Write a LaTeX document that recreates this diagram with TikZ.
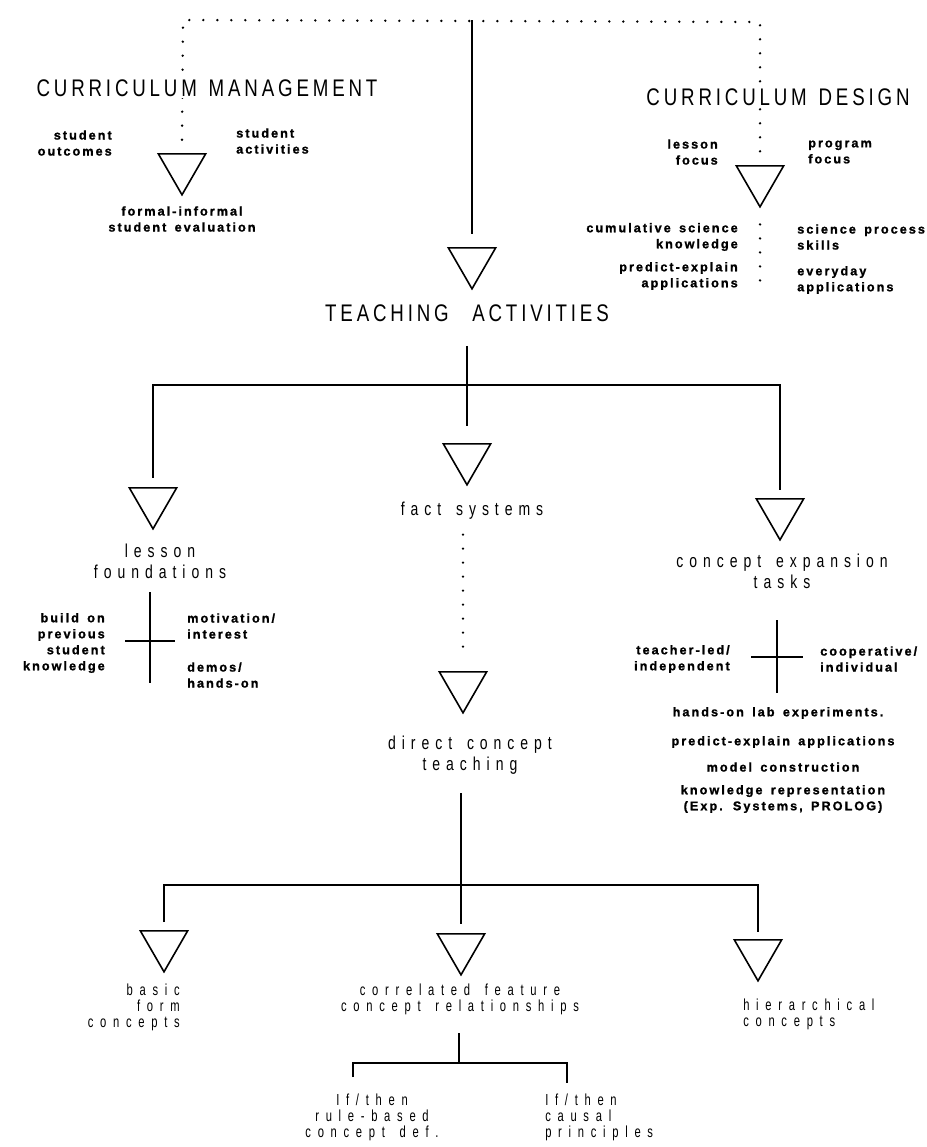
\documentclass[tikz,border=0pt]{standalone}
\usepackage{fontspec}
\setmainfont{Liberation Sans}
\newfontfamily\capsfont[LetterSpace=16,FakeStretch=0.78,WordSpace=1.3]{Liberation Sans}
\newfontfamily\labfont[LetterSpace=32,FakeStretch=0.75,WordSpace=1.5]{Liberation Sans}
\newfontfamily\botfont[LetterSpace=42,FakeStretch=0.7,WordSpace=1.5]{Liberation Sans}
\newfontfamily\smallfont[LetterSpace=16,FakeBold=1.2,WordSpace=1.5]{Liberation Sans}
\usetikzlibrary{positioning,shapes.geometric}

\begin{document}
\begin{tikzpicture}[x=0.75pt,y=-0.75pt,
		tri/.style={ % the open triangles
			draw, regular polygon, regular polygon sides=3,
			shape border rotate=180, minimum size=41pt,
			inner sep=0pt, line width=1.2pt, anchor=north
		},
		line/.style={line width=1.1pt},
		dotline/.style={line width=2pt, line cap=round, dash pattern=on 0pt off 10.5pt},
		head/.style={font=\capsfont\fontsize{18}{22}\selectfont, fill=white, inner sep=1pt},
		lab/.style={font=\labfont\fontsize{14}{16}\selectfont, align=center, inner sep=0pt},
		bot/.style={font=\botfont\fontsize{12}{12}\selectfont, inner sep=0pt},
		note/.style={font=\smallfont\bfseries\fontsize{9.5}{12}\selectfont, inner sep=0pt}
		]
		\useasboundingbox (0,0) rectangle (927,1147);

		%% top: management and design
		\node[tri] (tMan) at (182,153) {};
		\node[tri] (tDes) at (760,165) {};
		\node[tri] (tTeach) at (472,247) {};
		\coordinate (topL) at (183,20);
		\coordinate (topR) at (760,22);
		\coordinate (topM) at (472,20);

		\draw[dotline] ([yshift=10pt]tMan.north) -- (topL) -- (topR) -- ([yshift=10pt]tDes.north);
		\draw[line] (topM) -- ([yshift=10pt]tTeach.north);

		\node[head] (hMan) at (207,88) {CURRICULUM MANAGEMENT};
		\node[head] (hDes) at (778,97) {CURRICULUM DESIGN};

		\node[note, align=right, anchor=east] (nOut) at (112,143) {student\\outcomes};
		\node[note, align=left, anchor=west] (nAct) at (236,141) {student\\activities};
		\node[note, align=center] (nEval) at (182,219) {formal-informal\\student evaluation};

		\node[note, align=right, anchor=east] (nLes) at (718,152) {lesson\\focus};
		\node[note, align=left, anchor=west] (nProg) at (808,152) {program\\focus};
		\node[note, align=right, anchor=east] (nCum) at (738,237) {cumulative science\\knowledge};
		\node[note, align=right, anchor=east] (nPred) at (738,276) {predict-explain\\applications};
		\node[note, align=left, anchor=west] (nSci) at (797,237) {science process\\skills};
		\node[note, align=left, anchor=west] (nEvr) at (797,280) {everyday\\applications};
		\coordinate (desEnd) at (760,292);
		\draw[dotline] ([yshift=-12pt]tDes.south) -- (desEnd);

		\node[head] (hTeach) at (467,313) {TEACHING\ \ ACTIVITIES};

		%% three branches
		\node[tri] (tLes) at (153,487) {};
		\node[tri] (tFact) at (467,443) {};
		\node[tri] (tCon) at (780,498) {};
		\coordinate (jTeach) at (467,385);
		\draw[line, shorten <=17pt, shorten >=13pt] (hTeach.south) -- (tFact.north);
		\draw[line] ([yshift=7pt]tLes.north) |- (jTeach) -| ([yshift=6pt]tCon.north);

		\node[lab] (lLes) at (160,561) {lesson\\foundations};
		\node[lab] (lFact) at (472,511) {fact systems};
		\node[lab] (lCon) at (782,571) {concept expansion\\tasks};

		% cross under lesson foundations
		\coordinate (xLes) at (150,641);
		\draw[line] (xLes) ++(0,-49) -- ++(0,91) (xLes) ++(-25,0) -- ++(50,0);
		\node[note, align=right, anchor=east] (nBuild) at (105,643) {build on\\previous\\student\\knowledge};
		\node[note, align=left, anchor=west] (nMot) at (187,626) {motivation/\\interest};
		\node[note, align=left, anchor=west] (nDemo) at (187,675) {demos/\\hands-on};

		% cross under concept expansion tasks
		\coordinate (xCon) at (777,657);
		\draw[line] (xCon) ++(0,-37) -- ++(0,73) (xCon) ++(-26,0) -- ++(52,0);
		\node[note, align=right, anchor=east] (nTL) at (730,659) {teacher-led/\\independent};
		\node[note, align=left, anchor=west] (nCoop) at (820,659) {cooperative/\\individual};
		\node[note] (nLab) at (778,713) {hands-on lab experiments.};
		\node[note] (nPE) at (783,742) {predict-explain applications};
		\node[note] (nMod) at (783,767) {model construction};
		\node[note, align=center] (nKnow) at (783,799) {knowledge representation\\(Exp. Systems, PROLOG)};

		%% direct concept teaching
		\node[tri] (tDir) at (463,671) {};
		\draw[dotline, shorten <=11pt, shorten >=14pt] (tDir.north |- lFact.south) -- (tDir.north);
		\node[lab] (lDir) at (470,755) {direct concept\\teaching};

		%% bottom row
		\node[tri] (tBas) at (164,930) {};
		\node[tri] (tCor) at (461,933) {};
		\node[tri] (tHie) at (758,939) {};
		\coordinate (jDir) at (461,885);
		\draw[line, shorten <=14pt] (tCor.north |- lDir.south) -- ([yshift=7pt]tCor.north);
		\draw[line] ([yshift=6pt]tBas.north) |- (jDir) -| ([yshift=5pt]tHie.north);

		\node[bot, align=right, anchor=east] (lBas) at (180,1007) {basic\\form\\concepts};
		\node[bot, align=center] (lCor) at (460,999) {correlated feature\\concept relationships};
		\node[bot, align=left, anchor=west] (lHie) at (743,1014) {hierarchical\\concepts};

		\coordinate (jCor) at (459,1063);
		\coordinate (ifL) at (353,1077);
		\coordinate (ifR) at (567,1083);
		\draw[line, shorten <=14pt] (jCor |- lCor.south) -- (jCor);
		\draw[line] (ifL) |- (jCor) -| (ifR);
		\node[bot, align=center] (lRule) at (372,1117) {If/then\\rule-based\\concept def.};
		\node[bot, align=left, anchor=west] (lCaus) at (545,1117) {If/then\\causal\\principles};
	\end{tikzpicture}
\end{document}
